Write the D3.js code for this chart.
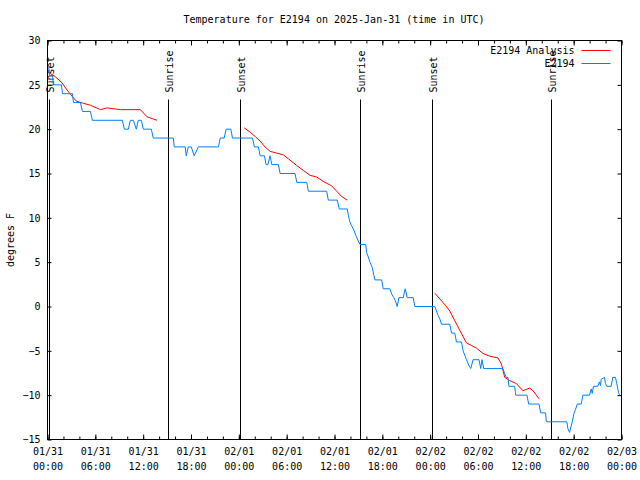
<!DOCTYPE html>
<html>
<head>
<meta charset="utf-8">
<script src="https://cdn.jsdelivr.net/npm/d3@7"></script>
<style>
  body { margin: 0; background: #fff; }
  text { font-family: "DejaVu Sans Mono", monospace; font-size: 10px; fill: #000; }
</style>
</head>
<body>
<svg id="chart" width="640" height="480"></svg>
<script>
// hours after 2025-01-31 00:00 UTC, degrees F
const e2194Obs = [
    [0.16, 27], [0.25, 26], [0.63, 26], [0.75, 25], [1.75, 25], [1.88, 24], [3.13, 24], [3.26, 23],
    [4.13, 23], [4.38, 22], [5.38, 22], [5.63, 21], [9.39, 21], [9.64, 20], [10.14, 20], [10.39, 21],
    [10.77, 21], [11.14, 20], [11.39, 21], [11.77, 21], [12.02, 20], [13.02, 20], [13.27, 19], [15.78, 19],
    [15.9, 18], [17.28, 18], [17.4, 17], [17.66, 18], [18.03, 18], [18.4, 17], [18.91, 18], [21.45, 18],
    [21.66, 19], [22.16, 19], [22.41, 20], [23.0, 20], [23.2, 19], [25.71, 19], [25.96, 18], [26.46, 18],
    [26.67, 17], [27.21, 17], [27.42, 16], [27.64, 16], [27.92, 17], [28.14, 16], [28.96, 16], [29.18, 15],
    [31.05, 15], [31.27, 14], [32.52, 14], [32.72, 13], [35.02, 13], [35.22, 12], [36.35, 12], [36.6, 11],
    [37.6, 11], [37.73, 10.3], [37.94, 9.5], [38.15, 9.1], [38.44, 8.6], [38.69, 8], [38.98, 7.4], [39.19, 7],
    [39.91, 7], [40.03, 6.1], [40.23, 5.6], [40.45, 5], [40.73, 4.4], [40.95, 3.5], [41.07, 3], [41.91, 3],
    [42.11, 2], [42.95, 2], [43.17, 1.4], [43.45, 1], [43.7, 0.5], [43.86, 0], [44.08, 1], [44.62, 1],
    [44.87, 2], [45.12, 1], [45.87, 1], [46.08, 0], [48.58, 0], [48.8, -0.5], [49.0, -1], [49.21, -1.4],
    [49.42, -2], [50.46, -2], [50.68, -3], [51.09, -3], [51.3, -4], [51.93, -4], [52.13, -5], [52.34, -5.5],
    [52.55, -6], [52.88, -6.7], [53.09, -7], [53.38, -6], [54.13, -6], [54.34, -7], [54.5, -6], [54.71, -7],
    [57.14, -7], [57.35, -7.6], [57.56, -8], [57.76, -8], [57.88, -9], [58.6, -9], [58.73, -10], [60.14, -10],
    [60.36, -11], [61.65, -11], [61.86, -12], [62.48, -12], [62.57, -13], [65.15, -13], [65.28, -13.8], [65.49, -14.2],
    [65.62, -13.7], [65.83, -13], [66.03, -12.1], [66.24, -11.6], [66.45, -11], [66.95, -11], [67.15, -10], [67.99, -10],
    [68.2, -9.3], [68.33, -9.8], [68.48, -9], [69.02, -9], [69.23, -8.5], [69.36, -8.9], [69.45, -8.2], [69.87, -8],
    [69.99, -8.7], [70.15, -9], [70.7, -9], [70.9, -8], [71.24, -8], [71.41, -8.7], [71.63, -9.7], [71.75, -10]
];

const analysisNight1 = [
    [0.29, 26.3], [0.79, 26.05], [1.75, 25.3], [2.47, 24.4], [3.09, 23.7], [3.63, 23.15], [4.55, 22.9],
    [5.38, 22.7], [6.64, 22.2], [7.48, 22.4], [8.3, 22.3], [9.14, 22.2], [11.65, 22.2], [12.48, 21.4],
    [13.11, 21.2], [13.74, 21.0]
];
const analysisNight2 = [
    [24.67, 20.15], [25.42, 19.66], [26.05, 19.17], [26.67, 18.65], [27.3, 17.98], [27.92, 17.5],
    [28.76, 17.3], [29.59, 17.1], [30.21, 16.66], [31.27, 15.9], [32.1, 15.34], [32.93, 14.8],
    [33.77, 14.6], [34.6, 14.1], [35.65, 13.6], [36.28, 13.0], [36.9, 12.4], [37.6, 12.0]
];
const analysisNight3 = [
    [48.59, 1.5], [49.21, 0.86], [49.84, 0.2], [50.46, -0.5], [51.09, -1.6], [51.72, -2.7], [52.55, -4.1],
    [53.18, -4.4], [53.81, -4.7], [54.63, -5.3], [55.47, -5.6], [56.51, -5.8], [56.94, -6.5], [57.35, -8.0],
    [57.98, -8.35], [58.82, -8.7], [59.64, -9.5], [60.48, -9.2], [60.9, -9.5], [61.32, -10.0], [61.65, -10.4]
];

const eventHours = [0.2, 15.24, 24.27, 39.31, 48.34, 63.27];
const eventLabels = ["Sunset", "Sunrise", "Sunset", "Sunrise", "Sunset", "Sunrise"];

const yTicks = [-15, -10, -5, 0, 5, 10, 15, 20, 25, 30];
const seriesNames = ["E2194 Analysis", "E2194"];
const seriesColors = ["#ff0000", "#0080ff"];

const startMs = Date.UTC(2025, 0, 31);
const toDate = h => new Date(startMs + h * 3600e3);

const svg = d3.select("#chart");
const plotLeft = 47, plotRight = 621, plotTop = 40, plotBottom = 439;
const g = svg.append("g").attr("transform", "translate(0.5,0.5)");

const x = d3.scaleUtc()
    .domain([toDate(0), toDate(72)])
    .range([plotLeft, plotRight]);
const y = d3.scaleLinear()
    .domain([-15, 30])
    .range([plotBottom, plotTop]);

// minor ticks every 2 hours, top and bottom
const minorTicks = x.ticks(d3.utcHour.every(2));
g.append("g")
    .attr("transform", `translate(0,${plotBottom})`)
    .call(d3.axisBottom(x).tickValues(minorTicks).tickSize(-3).tickFormat(""))
    .call(a => a.select(".domain").remove());
g.append("g")
    .attr("transform", `translate(0,${plotTop})`)
    .call(d3.axisTop(x).tickValues(minorTicks).tickSize(-3).tickFormat(""))
    .call(a => a.select(".domain").remove());

const majorTicks = x.ticks(d3.utcHour.every(6));
const fmtDay = d3.utcFormat("%m/%d"), fmtHour = d3.utcFormat("%H:%M");
const xAxis = g.append("g")
    .attr("transform", `translate(0,${plotBottom})`)
    .call(d3.axisBottom(x).tickValues(majorTicks).tickSize(-5).tickPadding(8).tickFormat(""));
xAxis.select(".domain").remove();
xAxis.selectAll(".tick text").each(function(d) {
    const t = d3.select(this);
    t.append("tspan").attr("x", 0).attr("dy", "0.71em").text(fmtDay(d));
    t.append("tspan").attr("x", 0).attr("dy", "1.55em").text(fmtHour(d));
});
g.append("g")
    .attr("transform", `translate(0,${plotTop})`)
    .call(d3.axisTop(x).tickValues(majorTicks).tickSize(-5).tickFormat(""))
    .call(a => a.select(".domain").remove());

g.append("g")
    .attr("transform", `translate(${plotLeft},0)`)
    .call(d3.axisLeft(y).tickValues(yTicks).tickSize(-4).tickPadding(7))
    .call(a => a.select(".domain").remove());
g.append("g")
    .attr("transform", `translate(${plotRight},0)`)
    .call(d3.axisRight(y).tickValues(yTicks).tickSize(-4).tickFormat(""))
    .call(a => a.select(".domain").remove());

g.selectAll(".tick line").attr("stroke", "#000");
svg.selectAll(".tick text").style("font-family", "DejaVu Sans Mono").style("font-size", "10px");

// border
g.append("rect")
    .attr("x", plotLeft).attr("y", plotTop)
    .attr("width", plotRight - plotLeft).attr("height", plotBottom - plotTop)
    .attr("fill", "none").attr("stroke", "#000");

// sunrise / sunset markers
const ev = g.selectAll(".event")
    .data(eventHours)
    .enter().append("g")
    .attr("class", "event");
ev.append("line")
    .attr("x1", d => Math.round(x(toDate(d))))
    .attr("x2", d => Math.round(x(toDate(d))))
    .attr("y1", 99).attr("y2", plotBottom)
    .attr("stroke", "#000");
ev.append("text")
    .attr("transform", d => `translate(${Math.round(x(toDate(d))) + 1},92) rotate(-90)`)
    .attr("dy", "0.35em")
    .attr("text-anchor", "start")
    .text((d, i) => eventLabels[i]);

const line = d3.line()
    .x(d => x(toDate(d[0])))
    .y(d => y(d[1]));

[analysisNight1, analysisNight2, analysisNight3].forEach(seg => {
    g.append("path")
        .datum(seg)
        .attr("fill", "none")
        .attr("stroke", seriesColors[0])
        .attr("d", line);
});

g.append("path")
    .datum(e2194Obs)
    .attr("fill", "none")
    .attr("stroke", seriesColors[1])
    .attr("d", line);

// legend
const legend = g.selectAll(".legend")
    .data(seriesNames)
    .enter().append("g")
    .attr("class", "legend")
    .attr("transform", (d, i) => `translate(0,${50 + i * 13})`);
legend.append("text")
    .attr("x", 574)
    .attr("dy", "0.35em")
    .attr("text-anchor", "end")
    .text(d => d);
legend.append("line")
    .attr("x1", 581).attr("x2", 610)
    .attr("stroke", (d, i) => seriesColors[i]);

svg.append("text")
    .attr("x", 334).attr("y", 19)
    .attr("dy", "0.35em")
    .attr("text-anchor", "middle")
    .text("Temperature for E2194 on 2025-Jan-31 (time in UTC)");

svg.append("text")
    .attr("transform", "translate(10,240) rotate(-90)")
    .attr("dy", "0.35em")
    .attr("text-anchor", "middle")
    .text("degrees F");
</script>
</body>
</html>
